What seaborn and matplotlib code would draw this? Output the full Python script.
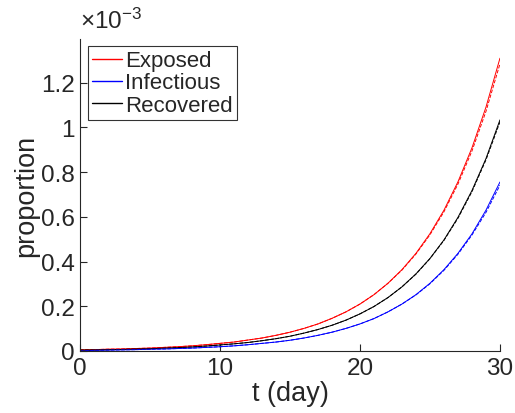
# SEIR-type model: exposed / infectious / recovered proportions over 30 days

import numpy as np
import pandas as pd
import seaborn as sns
import matplotlib.pyplot as plt
from matplotlib.ticker import FuncFormatter

# time axis (days)
t_day = list(range(0, 31))

# values, in units of 1e-3
exposed = [0.005, 0.006, 0.008, 0.009, 0.011, 0.013, 0.016, 0.019, 0.023, 0.028,
           0.034, 0.040, 0.049, 0.058, 0.070, 0.084, 0.101, 0.121, 0.146, 0.175,
           0.210, 0.252, 0.303, 0.364, 0.437, 0.525, 0.630, 0.757, 0.909, 1.091, 1.310]
infectious = [0.004, 0.005, 0.006, 0.007, 0.009, 0.010, 0.013, 0.015, 0.018, 0.022,
              0.027, 0.032, 0.038, 0.046, 0.055, 0.066, 0.080, 0.096, 0.115, 0.138,
              0.166, 0.199, 0.239, 0.287, 0.345, 0.414, 0.497, 0.598, 0.718, 0.861, 1.034]
recovered = [0.000, 0.003, 0.004, 0.005, 0.006, 0.008, 0.009, 0.011, 0.013, 0.016,
             0.019, 0.023, 0.028, 0.034, 0.040, 0.048, 0.058, 0.070, 0.084, 0.101,
             0.121, 0.145, 0.175, 0.210, 0.252, 0.303, 0.364, 0.437, 0.524, 0.630, 0.756]

# second (dashed) run, only differs near the end
exposed_dash = exposed[:23] + [0.362, 0.434, 0.520, 0.623, 0.747, 0.895, 1.072, 1.285]
infectious_dash = infectious[:24] + [0.344, 0.413, 0.495, 0.594, 0.713, 0.855, 1.025]
recovered_dash = recovered[:24] + [0.251, 0.301, 0.361, 0.433, 0.519, 0.620, 0.742]

df = pd.DataFrame({"t": t_day, "E": exposed, "I": infectious, "R": recovered,
                   "E2": exposed_dash, "I2": infectious_dash, "R2": recovered_dash})

sns.set_theme(style="ticks")
plt.rcParams["font.family"] = ["Liberation Sans", "DejaVu Sans"]
plt.rcParams["mathtext.fontset"] = "custom"
plt.rcParams["mathtext.rm"] = "Liberation Sans"
plt.rcParams["mathtext.it"] = "Liberation Sans"

fig = plt.figure(figsize=(5.15, 4.14), dpi=100)
ax = fig.add_axes([0.1553, 0.1498, 0.8155, 0.7536])

lw = 0.7
sns.lineplot(data=df, x="t", y="E", color="#ff0000", lw=lw, label="Exposed", ax=ax)
sns.lineplot(data=df, x="t", y="R", color="#0000ff", lw=lw, label="Infectious", ax=ax)
sns.lineplot(data=df, x="t", y="I", color="#000000", lw=lw, label="Recovered", ax=ax)
sns.lineplot(data=df, x="t", y="E2", color="#ff0000", lw=lw, ls="--", legend=False, ax=ax)
sns.lineplot(data=df, x="t", y="I2", color="#000000", lw=lw, ls="--", legend=False, ax=ax)
sns.lineplot(data=df, x="t", y="R2", color="#0000ff", lw=lw, ls="--", legend=False, ax=ax)

ax.set_xlim(0, 30)
ax.set_ylim(0, 1.396)
ax.set_xticks([0, 10, 20, 30])
ax.set_yticks([0, 0.2, 0.4, 0.6, 0.8, 1.0, 1.2])
ax.yaxis.set_major_formatter(FuncFormatter(lambda v, p: "%g" % round(v, 3)))

grey = "#262626"
for s in ["top", "right"]:
    ax.spines[s].set_visible(False)
for s in ["left", "bottom"]:
    ax.spines[s].set_color(grey)
    ax.spines[s].set_linewidth(0.8)
ax.tick_params(direction="in", length=5, width=0.8, colors=grey, labelsize=17.5, pad=4)

ax.set_xlabel("t (day)", fontsize=19.5, color=grey, labelpad=1)
ax.set_ylabel("proportion", fontsize=19.5, color=grey, labelpad=1)
ax.text(0.0, 1.02, r"$\times10^{-3}$", transform=ax.transAxes, fontsize=17.5,
        color=grey, ha="left", va="bottom")

leg = ax.legend(loc="upper left", bbox_to_anchor=(0.019, 0.978), borderaxespad=0,
                fontsize=16, handlelength=1.35, handletextpad=0.1, labelspacing=0.05,
                borderpad=0.2, frameon=True, fancybox=False)
leg.get_frame().set_edgecolor("black")
leg.get_frame().set_linewidth(0.8)
for h in leg.get_lines():
    h.set_linewidth(1.0)

fig.savefig("out.png", dpi=100)
